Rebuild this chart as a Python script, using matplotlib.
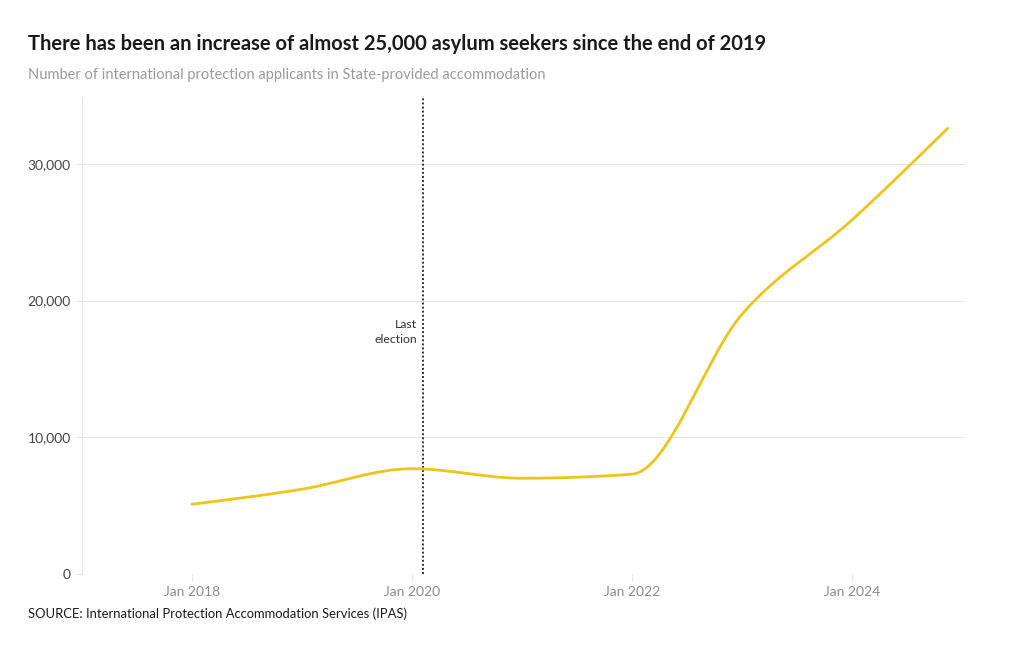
import matplotlib
matplotlib.use("Agg")
import matplotlib.pyplot as plt
from matplotlib.path import Path
from matplotlib.patches import PathPatch
import numpy as np

# ── Data (decimal years) ─────────────────────────────────────────────────────
years = [2018.0, 2019.0, 2020.0, 2021.0, 2022.0, 2023.0, 2024.0, 2024.87]
applicants = [5100, 6200, 7700, 7000, 7300, 19000, 25900, 32600]
election_year = 2020.1
tick_years = [2018, 2020, 2022, 2024]
tick_labels = ["Jan 2018", "Jan 2020", "Jan 2022", "Jan 2024"]
y_ticks = [0, 10000, 20000, 30000]

# ── Palette ──────────────────────────────────────────────────────────────────
LINE = "#EDC41B"; GRID = "#E6E6E6"; TEXT = "#1A1A1A"; SUB = "#9A9A9A"
TICK = "#8C8C8C"; DARK = "#333333"

plt.rcParams["font.family"] = ["Lato", "DejaVu Sans"]


def monotone_path(xs, ys):
    """Monotone-X cubic curve (as in d3) built as a Bezier path."""
    xs = np.asarray(xs, float); ys = np.asarray(ys, float)
    n = len(xs)
    h = np.diff(xs); s = np.diff(ys) / h
    t = np.zeros(n)
    for i in range(1, n - 1):
        p = (s[i-1] * h[i] + s[i] * h[i-1]) / (h[i-1] + h[i])
        t[i] = (np.sign(s[i-1]) + np.sign(s[i])) * min(abs(s[i-1]), abs(s[i]), 0.5 * abs(p))
    t[0] = (3 * s[0] - t[1]) / 2
    t[-1] = (3 * s[-1] - t[-2]) / 2
    verts = [(xs[0], ys[0])]; codes = [Path.MOVETO]
    for i in range(n - 1):
        dx = h[i] / 3
        verts += [(xs[i] + dx, ys[i] + dx * t[i]),
                  (xs[i+1] - dx, ys[i+1] - dx * t[i+1]),
                  (xs[i+1], ys[i+1])]
        codes += [Path.CURVE4] * 3
    return Path(verts, codes)


fig = plt.figure(figsize=(10.2, 6.5), dpi=100, facecolor="white")
ax = fig.add_axes([0.0804, 0.117, 0.866, 0.734])

ax.set_xlim(2017.0, 2025.03)
ax.set_ylim(0, 34900)

# grid + axes styling
ax.set_yticks(y_ticks)
ax.set_yticklabels([f"{v:,}" for v in y_ticks], color="#444444", fontsize=10)
ax.yaxis.grid(True, color=GRID, linewidth=0.8)
ax.set_axisbelow(True)
ax.tick_params(axis="y", length=4, color=GRID, pad=4)
ax.set_xticks(tick_years)
ax.set_xticklabels(tick_labels, color=TICK, fontsize=10)
ax.tick_params(axis="x", length=5, color=GRID, pad=4)
for sp in ["top", "right", "bottom"]:
    ax.spines[sp].set_visible(False)
ax.spines["left"].set_color(GRID)
ax.spines["left"].set_linewidth(0.8)

# election marker
ax.axvline(election_year, color=DARK, linestyle=(0, (1, 1.1)), linewidth=1.4, zorder=2)
ax.text(election_year - 0.055, 17700, "Last\nelection", ha="right", va="center",
        fontsize=8.8, color=DARK, linespacing=1.4)

# smoothed series
ax.add_patch(PathPatch(monotone_path(years, applicants), facecolor="none",
                       edgecolor=LINE, linewidth=2.0, capstyle="round", zorder=3))

# ── Titles + footer ──────────────────────────────────────────────────────────
fig.text(28 / 1020, 1 - 44 / 650,
         "There has been an increase of almost 25,000 asylum seekers since the end of 2019",
         fontsize=14.5, fontweight="bold", color=TEXT, va="center", ha="left")
fig.text(28 / 1020, 1 - 75 / 650,
         "Number of international protection applicants in State-provided accommodation",
         fontsize=10.5, color=SUB, va="center", ha="left")
fig.text(28 / 1020, 1 - 614 / 650,
         "SOURCE: International Protection Accommodation Services (IPAS)",
         fontsize=9.4, color=TEXT, va="center", ha="left")

fig.savefig("out.png", dpi=100, facecolor="white")
